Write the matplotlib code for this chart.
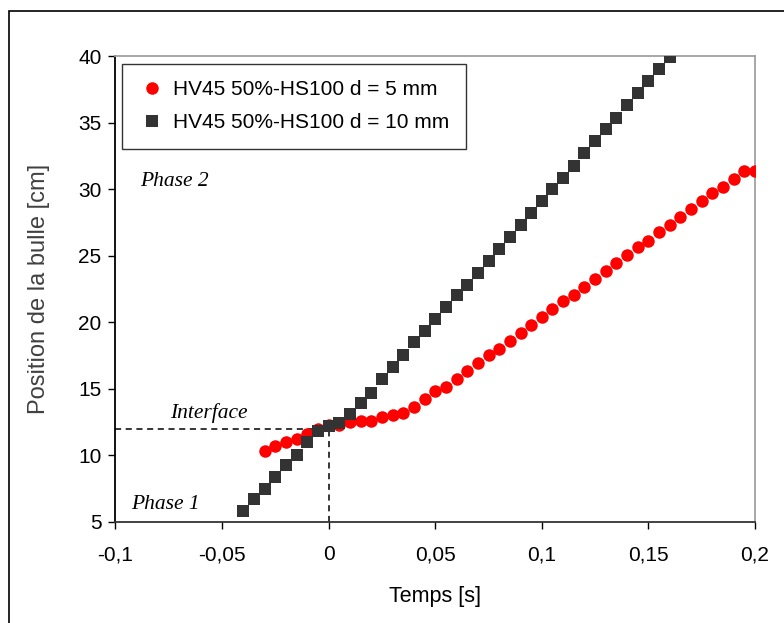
import numpy as np
import matplotlib.pyplot as plt
from matplotlib.patches import Rectangle

# Time values (s)
t_5mm = np.round(np.arange(-0.03, 0.2001, 0.005), 3)
t_10mm = np.round(np.arange(-0.04, 0.1601, 0.005), 3)

# Bubble position (cm), d = 5 mm
pos_5mm = [10.3, 10.65, 10.97, 11.25, 11.6, 11.95, 12.3, 12.3, 12.5, 12.57, 12.57,
           12.85, 13.05, 13.18, 13.64, 14.2, 14.82, 15.15, 15.73, 16.35, 16.9,
           17.53, 17.98, 18.59, 19.16, 19.79, 20.41, 20.97, 21.6, 22.05, 22.63,
           23.25, 23.85, 24.43, 25.02, 25.65, 26.13, 26.76, 27.33, 27.93, 28.52,
           29.09, 29.69, 30.17, 30.77, 31.36, 31.36]

# Bubble position (cm), d = 10 mm
pos_10mm = [5.8, 6.7, 7.47, 8.35, 9.22, 10.04, 10.95, 11.84, 12.16, 12.45, 13.07,
            13.95, 14.66, 15.7, 16.6, 17.56, 18.48, 19.35, 20.25, 21.15, 22.05,
            22.82, 23.69, 24.62, 25.52, 26.42, 27.31, 28.21, 29.11, 30.01, 30.88,
            31.78, 32.71, 33.6, 34.5, 35.4, 36.32, 37.25, 38.15, 39.04, 39.94]

x_ticks = [-0.1, -0.05, 0, 0.05, 0.1, 0.15, 0.2]
x_tick_labels = ['-0,1', '-0,05', '0', '0,05', '0,1', '0,15', '0,2']
y_ticks = [5, 10, 15, 20, 25, 30, 35, 40]

plt.rcParams['font.family'] = ['Liberation Sans', 'DejaVu Sans']

fig = plt.figure(figsize=(7.84, 6.23), dpi=100)
ax = fig.add_axes([0.1473, 0.1628, 0.8157, 0.7467])

# outer frame (right and bottom edges run past the picture)
fig.patches.append(Rectangle((9/784, -0.1), 1.2, 1 - 10.5/623 + 0.1,
                             transform=fig.transFigure, fill=False,
                             edgecolor='black', linewidth=1.2))

ax.plot(t_5mm, pos_5mm, 'o', color='#ff0000', markersize=9,
        markeredgewidth=0, label='HV45 50%-HS100 d = 5 mm', zorder=3)
ax.plot(t_10mm, pos_10mm, 's', color='#333333', markersize=8.8,
        markeredgewidth=0, label='HV45 50%-HS100 d = 10 mm', zorder=4)

# interface lines
ax.plot([-0.1, 0], [12, 12], '--', color='black', linewidth=1.1, dashes=(4, 3), zorder=2)
ax.plot([0, 0], [5, 12], '--', color='black', linewidth=1.1, dashes=(4, 3), zorder=2)

ax.text(-0.0745, 13.2, 'Interface', family=['Liberation Serif'], style='italic',
        fontsize=15.5, va='center', ha='left')
ax.text(-0.0925, 6.25, 'Phase 1', family=['Liberation Serif'], style='italic',
        fontsize=15.5, va='center', ha='left')
ax.text(-0.0885, 30.6, 'Phase 2', family=['Liberation Serif'], style='italic',
        fontsize=15.5, va='center', ha='left')

ax.set_xlim(-0.1, 0.2)
ax.set_ylim(5, 40)
ax.set_xticks(x_ticks)
ax.set_xticklabels(x_tick_labels)
ax.set_yticks(y_ticks)
ax.tick_params(direction='out', length=5, width=1, labelsize=15, pad=5)
ax.tick_params(axis='x', pad=12)

ax.spines['left'].set_color('black')
ax.spines['bottom'].set_color('#333333')
ax.spines['top'].set_color('#a0a0a0')
ax.spines['right'].set_color('#a0a0a0')
for s in ax.spines.values():
    s.set_linewidth(1.3)

ax.set_xlabel('Temps [s]', fontsize=15.5, labelpad=16)
ax.set_ylabel('Position de la bulle [cm]', fontsize=17, color='#404040', labelpad=20)

leg = ax.legend(loc='upper left', bbox_to_anchor=(0.01, 0.984), borderaxespad=0,
                fontsize=15, frameon=True, fancybox=False, edgecolor='black',
                handletextpad=0.35, handlelength=1.3, borderpad=0.8,
                labelspacing=0.65)
leg.get_frame().set_linewidth(1.0)

fig.savefig('out.png', dpi=100)
